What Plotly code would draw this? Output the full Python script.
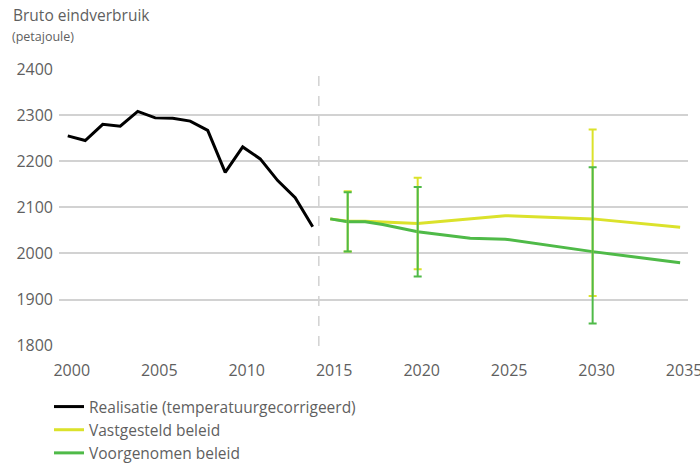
import plotly.graph_objects as go

# --- data ---
real_years = list(range(2000, 2015))
real_values = [2255, 2245, 2280, 2276, 2308, 2294, 2293, 2287, 2267, 2176, 2231, 2205, 2158, 2121, 2058]

vast_years = [2015, 2016, 2017, 2018, 2020, 2025, 2030, 2035]
vast_values = [2075, 2070, 2070, 2068, 2065, 2082, 2075, 2057]

voor_years = [2015, 2016, 2017, 2018, 2020, 2023, 2025, 2030, 2035]
voor_values = [2075, 2069, 2069, 2063, 2047, 2033, 2031, 2004, 1980]

band_years = [2016, 2020, 2030]
vast_low = [2004, 1966, 1908]
vast_high = [2135, 2164, 2269]
voor_low = [2004, 1950, 1848]
voor_high = [2133, 2144, 2187]

x_ticks = [2000, 2005, 2010, 2015, 2020, 2025, 2030, 2035]
y_ticks = [1800, 1900, 2000, 2100, 2200, 2300, 2400]
split_year = 2014.35

BLACK = "#000000"
YELLOW = "#dbe22b"
GREEN = "#4fba48"
TEXT = "#5f5f5f"
GRID = "#d2d2d2"
FONT = "Open Sans"

W, H = 700, 466

fig = go.Figure()

fig.add_trace(go.Scatter(x=real_years, y=real_values, mode="lines",
                         line=dict(color=BLACK, width=3),
                         name="Realisatie (temperatuurgecorrigeerd)"))
fig.add_trace(go.Scatter(x=vast_years, y=vast_values, mode="lines",
                         line=dict(color=YELLOW, width=3),
                         name="Vastgesteld beleid"))
fig.add_trace(go.Scatter(x=voor_years, y=voor_values, mode="lines",
                         line=dict(color=GREEN, width=3),
                         name="Voorgenomen beleid"))

def band(low, high, color):
    mid = [(l + h) / 2 for l, h in zip(low, high)]
    return go.Scatter(x=band_years, y=mid, mode="markers",
                      marker=dict(size=0.1, color=color, opacity=0),
                      showlegend=False, hoverinfo="skip",
                      error_y=dict(type="data", symmetric=False,
                                   array=[h - m for h, m in zip(high, mid)],
                                   arrayminus=[m - l for m, l in zip(mid, low)],
                                   color=color, thickness=2, width=4))

fig.add_trace(band(vast_low, vast_high, YELLOW))
fig.add_trace(band(voor_low, voor_high, GREEN))

fig.add_shape(type="line", xref="x", yref="paper", x0=split_year, x1=split_year,
              y0=1 - 346 / H, y1=1 - 69 / H,
              line=dict(color=GRID, width=1.5, dash="10px,10px"), layer="below")

fig.update_layout(
    width=W, height=H,
    margin=dict(l=0, r=0, t=0, b=0, autoexpand=False),
    plot_bgcolor="white", paper_bgcolor="white",
    font=dict(family=FONT, color=TEXT, size=15),
    showlegend=True,
    legend=dict(x=49 / W, y=1 - 390 / H, xanchor="left", yanchor="top",
                font=dict(family=FONT, size=15.5, color=TEXT),
                bgcolor="rgba(0,0,0,0)", itemwidth=30, tracegroupgap=0),
    xaxis=dict(domain=[59 / W, 688 / W], range=[1999.5, 2035.45], tickvals=x_ticks,
               ticktext=[str(t) for t in x_ticks], automargin=False,
               showgrid=False, zeroline=False, showline=False, ticks="",
               ticklabelstandoff=13, ticklabelshift=4, ticklabeloverflow="allow",
               tickfont=dict(family=FONT, size=16, color=TEXT)),
    yaxis=dict(domain=[1 - 345.7 / H, 1 - 69 / H], range=[1800, 2400], tickvals=y_ticks,
               showgrid=True, gridcolor=GRID, gridwidth=1.5, automargin=False,
               zeroline=False, showline=False, ticks="",
               ticklabelstandoff=5,
               tickfont=dict(family=FONT, size=16, color=TEXT)),
    annotations=[
        dict(text="Bruto eindverbruik", xref="paper", yref="paper",
             x=11 / W, y=1 - 15 / H, xanchor="left", yanchor="middle",
             showarrow=False, font=dict(family=FONT, size=15.5, color=TEXT)),
        dict(text="(petajoule)", xref="paper", yref="paper",
             x=10 / W, y=1 - 36 / H, xanchor="left", yanchor="middle",
             showarrow=False, font=dict(family=FONT, size=12.5, color=TEXT)),
    ],
)

fig.write_html("out.html", config={"displayModeBar": False},
               post_script="document.body.style.margin='0';document.body.style.padding='0';")
